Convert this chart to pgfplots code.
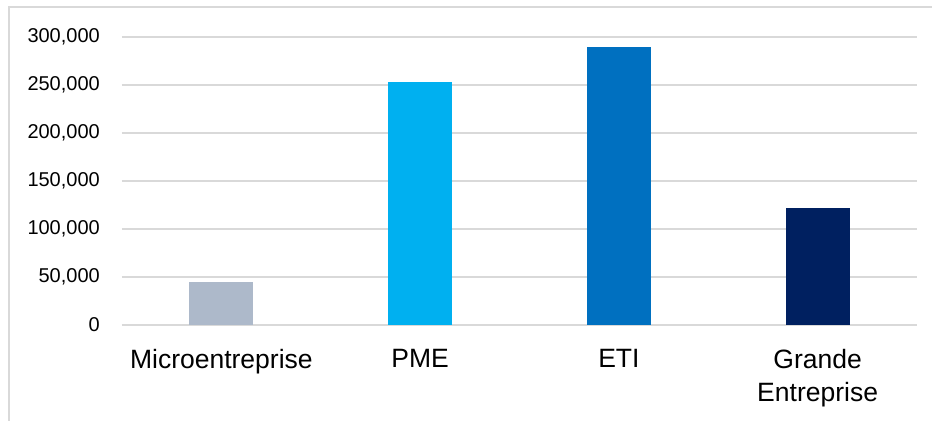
\documentclass[border=0pt]{standalone}
\usepackage{fontspec}
\setmainfont{Liberation Sans}
\usepackage{pgfplots}
\pgfplotsset{compat=1.18}
\definecolor{cMicro}{HTML}{ADB9CA}
\definecolor{cPME}{HTML}{00B0F0}
\definecolor{cETI}{HTML}{0070C0}
\definecolor{cGE}{HTML}{002060}
\definecolor{gridc}{HTML}{D9D9D9}
\begin{document}
\begin{tikzpicture}
\begin{axis}[
  at={(0,0)}, anchor=south west,
  scale only axis,
  width=795bp, height=288bp,
  xmin=-0.5, xmax=3.5,
  ymin=0, ymax=300000,
  ytick={0,50000,100000,150000,200000,250000,300000},
  xtick={0,1,2,3},
  xticklabels={Microentreprise,PME,ETI,{Grande\\Entreprise}},
  axis line style={draw=none},
  major tick length=0pt,
  ymajorgrids,
  major grid style={draw=gridc, line width=1.5bp},
  scaled y ticks=false,
  /pgf/number format/assume math mode=true,
  yticklabel style={/pgf/number format/fixed, /pgf/number format/1000 sep={,},
    font=\fontsize{20bp}{24bp}\selectfont, anchor=east, inner sep=0pt, xshift=-22bp},
  xticklabel style={font=\fontsize{26.5bp}{33bp}\selectfont, align=center,
    anchor=north, inner sep=0pt, yshift=-24bp},
  ybar, bar width=64bp, bar shift=0pt,
  clip=false,
]
\addplot[fill=cMicro, draw=none] coordinates {(0,45000)};
\addplot[fill=cPME, draw=none] coordinates {(1,253500)};
\addplot[fill=cETI, draw=none] coordinates {(2,290000)};
\addplot[fill=cGE, draw=none] coordinates {(3,121500)};
\end{axis}
\useasboundingbox (-122bp,-96bp) rectangle (810bp,325bp);
\draw[gridc, line width=2bp] (-113bp,-96bp) -- (-113bp,317.5bp) -- (810bp,317.5bp);
\end{tikzpicture}
\end{document}
